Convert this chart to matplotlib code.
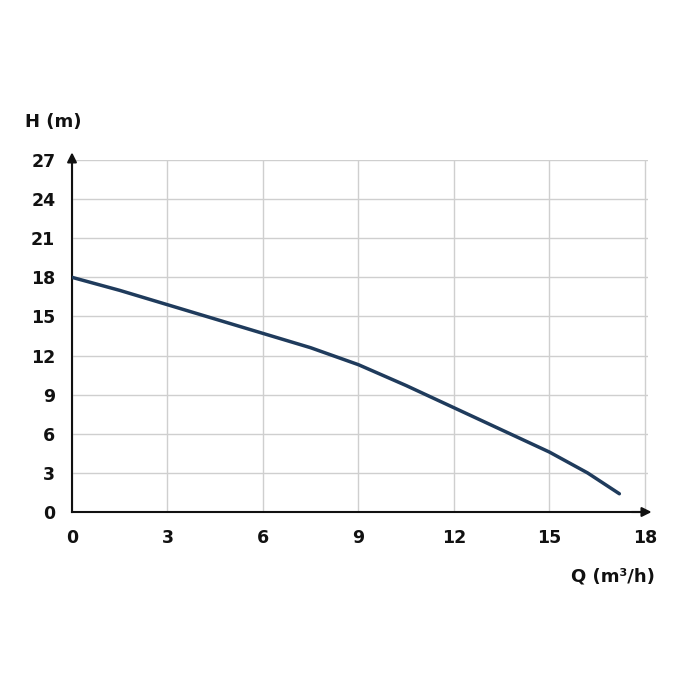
import matplotlib
matplotlib.use("Agg")
import matplotlib.pyplot as plt

flow = [0, 1.5, 3, 4.5, 6, 7.5, 9, 10.5, 12, 13.5, 15, 16.2, 17.2]
head = [18.0, 17.0, 15.9, 14.8, 13.7, 12.6, 11.3, 9.7, 8.0, 6.3, 4.6, 3.0, 1.4]
xticks = [0, 3, 6, 9, 12, 15, 18]
yticks = [0, 3, 6, 9, 12, 15, 18, 21, 24, 27]

fig = plt.figure(figsize=(7, 7), dpi=100)
ax = fig.add_axes([72/700, 188/700, 576/700, 352/700])
ax.plot(flow, head, color="#1f3b5c", lw=2.5, solid_capstyle="round", zorder=3)
ax.set_xlim(0, 18.1)
ax.set_ylim(0, 27)
ax.set_xticks(xticks)
ax.set_yticks(yticks)
ax.grid(True, color="#cfcfcf", lw=1)
for s in ["top", "right"]:
    ax.spines[s].set_visible(False)
for s in ["left", "bottom"]:
    ax.spines[s].set_color("#111111")
    ax.spines[s].set_linewidth(1.5)
ax.tick_params(length=0, labelsize=12.5, pad=12, colors="#111111")
for lab in ax.get_xticklabels() + ax.get_yticklabels():
    lab.set_fontweight("semibold")
ax.annotate("", xy=(0, 27.8), xytext=(0, 26.5), annotation_clip=False,
            arrowprops=dict(arrowstyle="-|>", color="#111111", lw=1.5, mutation_scale=14))
ax.annotate("", xy=(18.3, 0), xytext=(17.5, 0), annotation_clip=False,
            arrowprops=dict(arrowstyle="-|>", color="#111111", lw=1.5, mutation_scale=14))
fig.text(25/700, 1 - 122/700, "H (m)", fontsize=13, fontweight="bold", va="center", color="#111111")
fig.text(655/700, 1 - 577/700, "Q (m³/h)", fontsize=13, fontweight="bold", va="center", ha="right", color="#111111")
fig.savefig("out.png", dpi=100)
